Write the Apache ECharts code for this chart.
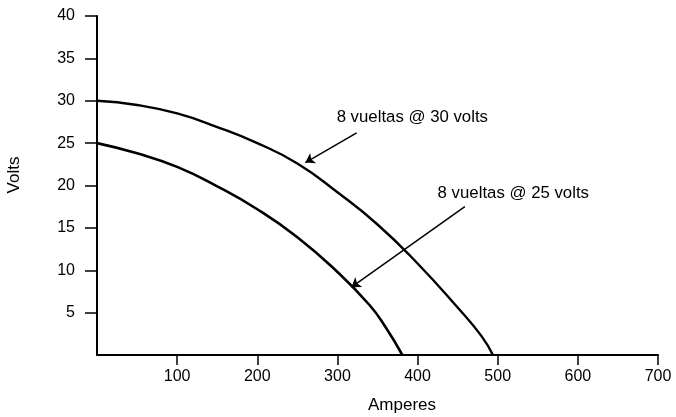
<!DOCTYPE html>
<html>
<head>
<meta charset="utf-8">
<script src="https://cdn.jsdelivr.net/npm/echarts@6/dist/echarts.min.js"></script>
<style>
  html, body { margin: 0; padding: 0; background: #fff; }
  #chart { width: 676px; height: 417px; }
</style>
</head>
<body>
<div id="chart"></div>
<script>
// Volt-ampere characteristics of a welding generator, 8 turns
const amps30  = [0, 50, 100, 150, 200, 250, 300, 350, 400, 450, 480, 494];
const volts30 = [30, 29.5, 28.5, 26.9, 25.0, 22.6, 19.2, 15.4, 10.8, 5.6, 2.2, 0];

const amps25  = [0, 50, 100, 150, 200, 250, 300, 340, 360, 381];
const volts25 = [25, 23.8, 22.2, 19.9, 17.2, 13.9, 9.8, 5.9, 3.3, 0];

const xTicks = [100, 200, 300, 400, 500, 600, 700];
const yTicks = [5, 10, 15, 20, 25, 30, 35, 40];

const xName = 'Amperes';
const yName = 'Volts';

// Callout texts, their anchor (amperes, volts) and arrow ends
const noteText  = ['8 vueltas @ 30 volts', '8 vueltas @ 25 volts'];
const noteAt    = [[299, 28.0], [425, 19.1]];
const arrowFrom = [[324, 26.2], [459, 17.5]];
const arrowTo   = [[260, 22.7], [317.5, 8.0]];

const ink = '#000';
const font = '"Liberation Sans", Arial, Helvetica, sans-serif';

const pairs = (xs, ys) => xs.map((x, i) => [x, ys[i]]);

const chart = echarts.init(document.getElementById('chart'), null, { renderer: 'canvas' });

const arrowLines = arrowFrom.map((f, i) => [{ coord: f }, { coord: arrowTo[i] }]);

chart.setOption({
  animation: false,
  backgroundColor: '#fff',
  grid: { left: 97, right: 18, top: 16, bottom: 62 },
  xAxis: {
    type: 'value',
    min: 0,
    max: 700,
    interval: 100,
    splitLine: { show: false },
    axisLine: { show: true, onZero: false, lineStyle: { color: ink, width: 2 } },
    axisTick: { show: true, inside: false, length: 10, customValues: xTicks, lineStyle: { color: ink, width: 1.5 } },
    axisLabel: { customValues: xTicks, margin: 14, color: ink, fontSize: 16, fontFamily: font }
  },
  yAxis: {
    type: 'value',
    min: 0,
    max: 40,
    interval: 5,
    splitLine: { show: false },
    axisLine: { show: true, onZero: false, lineStyle: { color: ink, width: 2 } },
    axisTick: { show: true, inside: false, length: 12, customValues: yTicks, lineStyle: { color: ink, width: 1.5 } },
    axisLabel: { customValues: yTicks, margin: 22, color: ink, fontSize: 16, fontFamily: font, padding: [0, 0, 6, 0] }
  },
  graphic: [
    {
      type: 'text',
      x: 14, y: 175,
      rotation: Math.PI / 2,
      style: { text: yName, fill: ink, font: '17px ' + font, align: 'center', verticalAlign: 'middle' }
    },
    {
      type: 'text',
      x: 402, y: 405,
      style: { text: xName, fill: ink, font: '17px ' + font, align: 'center', verticalAlign: 'middle' }
    }
  ],
  series: [
    {
      name: '30 volts',
      type: 'line',
      data: pairs(amps30, volts30),
      smooth: 0.5,
      showSymbol: false,
      lineStyle: { color: ink, width: 2.4 },
      z: 3
    },
    {
      name: '25 volts',
      type: 'line',
      data: pairs(amps25, volts25),
      smooth: 0.5,
      showSymbol: false,
      lineStyle: { color: ink, width: 2.6 },
      z: 3
    },
    {
      name: 'arrows',
      type: 'line',
      data: [],
      markLine: {
        silent: true,
        symbol: ['none', 'arrow'],
        symbolSize: 9,
        label: { show: false },
        lineStyle: { color: ink, width: 1.5, type: 'solid' },
        itemStyle: { color: ink },
        emphasis: { disabled: true },
        data: arrowLines
      }
    },
    {
      name: 'notes',
      type: 'scatter',
      symbolSize: 0,
      silent: true,
      itemStyle: { opacity: 1 },
      data: noteAt.map((p, i) => [p[0], p[1], noteText[i]]),
      label: {
        show: true,
        position: 'right',
        distance: 0,
        color: ink,
        fontSize: 16.8,
        fontFamily: font,
        formatter: (p) => p.value[2]
      }
    }
  ]
});
</script>
</body>
</html>
